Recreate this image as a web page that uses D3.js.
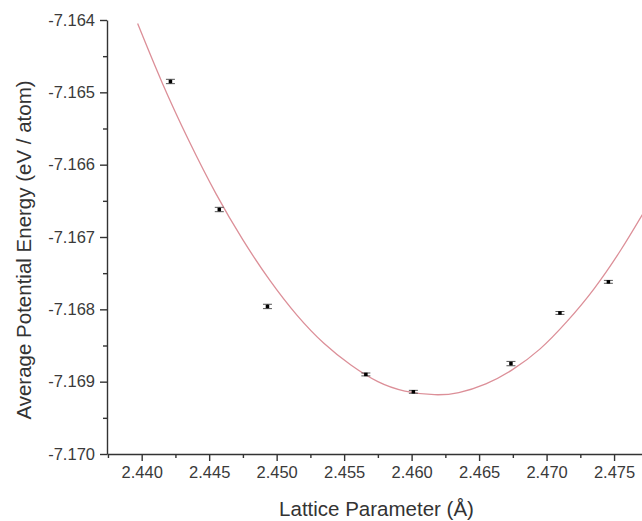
<!DOCTYPE html>
<html>
<head>
<meta charset="utf-8">
<script src="https://cdn.jsdelivr.net/npm/d3@7"></script>
<style>
  body { margin: 0; background: #fff; }
  svg { display: block; font-family: "Liberation Sans", Arial, sans-serif; }
</style>
</head>
<body>
<div id="chart"></div>
<script>
// measured points (lattice parameter, energy, error)
const latticeA = [2.44213, 2.44575, 2.44932, 2.45661, 2.46013, 2.46736, 2.47099, 2.47458];
const energy = [-7.16485, -7.16662, -7.16796, -7.16890, -7.16914, -7.16875, -7.16805, -7.16762];
const energyErr = [0.00003, 0.00003, 0.00003, 0.00002, 0.00002, 0.00003, 0.00002, 0.00002];

// fitted curve
const fitA = [2.4397, 2.4415, 2.4435, 2.4455, 2.4475, 2.4495, 2.4515, 2.4535, 2.4555, 2.4575,
  2.4595, 2.4617, 2.4635, 2.4655, 2.4675, 2.4695, 2.4715, 2.4735, 2.4755, 2.4771];
const fitE = [-7.16405, -7.16486, -7.16567, -7.16640, -7.16704, -7.16760, -7.16808, -7.16847,
  -7.16877, -7.16900, -7.16913, -7.16918, -7.16915, -7.16903, -7.16883, -7.16855, -7.16817,
  -7.16772, -7.16718, -7.16669];

const xTicks = [2.440, 2.445, 2.450, 2.455, 2.460, 2.465, 2.470, 2.475];
const xMinor = [2.4375, 2.4425, 2.4475, 2.4525, 2.4575, 2.4625, 2.4675, 2.4725];
const yTicks = [-7.170, -7.169, -7.168, -7.167, -7.166, -7.165, -7.164];
const yMinor = [-7.1695, -7.1685, -7.1675, -7.1665, -7.1655, -7.1645];

const W = 642, H = 521;
const margin = { left: 107, right: 642, top: 20, bottom: 454 };

const svg = d3.select("#chart").append("svg")
  .attr("width", W)
  .attr("height", H);

const x = d3.scaleLinear().domain([2.43743, 2.47707]).range([margin.left, margin.right]);
const y = d3.scaleLinear().domain([-7.170, -7.164]).range([margin.bottom, margin.top]);

const fmt = function (d) { return d.toFixed(3); };

// fitted curve
const line = d3.line()
  .x(function (d) { return x(d[0]); })
  .y(function (d) { return y(d[1]); })
  .curve(d3.curveNatural);

svg.append("path")
  .datum(fitA.map(function (a, i) { return [a, fitE[i]]; }))
  .attr("fill", "none")
  .attr("stroke", "#dc8f98")
  .attr("stroke-width", 1.3)
  .attr("d", line);

// x axis: minor then major
svg.append("g")
  .attr("transform", "translate(0," + margin.bottom + ")")
  .call(d3.axisBottom(x).tickValues(xMinor).tickSize(4).tickSizeOuter(0).tickFormat(""))
  .call(function (g) { g.select(".domain").remove(); });

svg.append("g")
  .attr("transform", "translate(0," + margin.bottom + ")")
  .call(d3.axisBottom(x).tickValues(xTicks).tickSize(7).tickSizeOuter(0).tickPadding(5)
    .tickFormat(fmt));

// y axis
svg.append("g")
  .attr("transform", "translate(" + margin.left + ",0)")
  .call(d3.axisLeft(y).tickValues(yMinor).tickSize(4).tickSizeOuter(0).tickFormat(""))
  .call(function (g) { g.select(".domain").remove(); });

svg.append("g")
  .attr("transform", "translate(" + margin.left + ",0)")
  .call(d3.axisLeft(y).tickValues(yTicks).tickSize(7).tickSizeOuter(0).tickPadding(5)
    .tickFormat(fmt));

svg.selectAll(".domain, .tick line")
  .attr("stroke", "#333")
  .attr("stroke-width", 1.4);

svg.selectAll(".tick text")
  .attr("fill", "#3a3a3a")
  .style("font-size", "16.5px");

// error bars and points
const pts = svg.append("g");
latticeA.forEach(function (a, i) {
  const cx = x(a);
  const y0 = y(energy[i] - energyErr[i]);
  const y1 = y(energy[i] + energyErr[i]);
  pts.append("line")
    .attr("x1", cx).attr("x2", cx).attr("y1", y0).attr("y2", y1)
    .attr("stroke", "#222").attr("stroke-width", 1);
  [y0, y1].forEach(function (yy) {
    pts.append("line")
      .attr("x1", cx - 4.5).attr("x2", cx + 4.5).attr("y1", yy).attr("y2", yy)
      .attr("stroke", "#555").attr("stroke-width", 1);
  });
  pts.append("rect")
    .attr("x", cx - 1.75).attr("y", y(energy[i]) - 1.75)
    .attr("width", 3.5).attr("height", 3.5)
    .attr("fill", "#000");
});

// axis titles
svg.append("text")
  .attr("x", (margin.left + margin.right) / 2 + 2)
  .attr("y", 516)
  .attr("text-anchor", "middle")
  .attr("fill", "#333")
  .style("font-size", "20.5px")
  .text("Lattice Parameter (Å)");

svg.append("text")
  .attr("transform", "translate(31," + 250 + ") rotate(-90)")
  .attr("text-anchor", "middle")
  .attr("fill", "#333")
  .style("font-size", "20.5px")
  .text("Average Potential Energy (eV / atom)");
</script>
</body>
</html>
